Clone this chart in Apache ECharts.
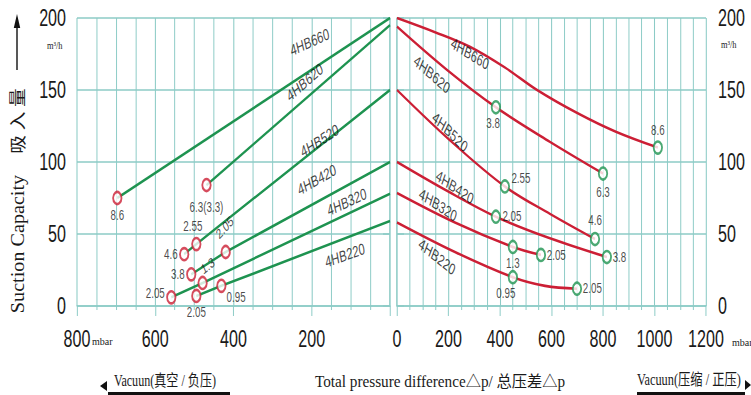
<!DOCTYPE html>
<html><head><meta charset="utf-8">
<script src="https://cdn.jsdelivr.net/npm/echarts@6/dist/echarts.min.js"></script>
<style>
html,body{margin:0;padding:0;background:#fff;overflow:hidden;width:751px;height:395px}
#c{width:1073px;height:395px;transform:scaleX(0.7);transform-origin:0 0}
</style></head><body><div id="c"></div>
<script>
// ---------------- data ----------------
const models = ['4HB660','4HB620','4HB520','4HB420','4HB320','4HB220'];
const vacTicks = [0,200,400,600,800];
const prsTicks = [0,200,400,600,800,1000,1200];
const capTicks = [0,50,100,150,200];

// vacuum side (left panel): [Δp mbar, suction capacity m³/h]
const vac660 = [[0,200],[697,75]];
const vac620 = [[0,195],[469,84]];
const vac520 = [[0,150],[495,43],[526,36]];
const vac420 = [[0,100],[420,37.5],[508,22]];
const vac320 = [[0,78],[479,16],[559,6]];
const vac220 = [[0,59],[431,14],[495,7]];
// motor power (kW) at the marked points (all points but the first)
const vacKw660 = ['8.6'];
const vacKw620 = ['6.3(3.3)'];
const vacKw520 = ['2.55','4.6'];
const vacKw420 = ['2.05','3.8'];
const vacKw320 = ['1.3','2.05'];
const vacKw220 = ['0.95','2.05'];

// pressure side (right panel)
const prs660 = [[0,200],[150,190],[283,180],[420,165.5],[544,150],[700,134],[850,121],[1013,110]];
const prs620 = [[0,194],[194,164],[384,138],[594,114],[800,92]];
const prs520 = [[0,150],[206,115],[419,83],[594,64],[769,46.5]];
const prs420 = [[0,100],[194,80],[384,62],[594,47],[815,34]];
const prs320 = [[0,78.5],[225,58],[450,41],[559,35.5]];
const prs220 = [[0,58],[225,37.5],[450,20],[575,14],[699,12]];
const prsMark660 = [[1013,110]];
const prsMark620 = [[384,138],[800,92]];
const prsMark520 = [[419,83],[769,46.5]];
const prsMark420 = [[384,62],[815,34]];
const prsMark320 = [[450,41],[559,35.5]];
const prsMark220 = [[450,20],[699,12]];
const prsKw660 = ['8.6'];
const prsKw620 = ['3.8','6.3'];
const prsKw520 = ['2.55','4.6'];
const prsKw420 = ['2.05','3.8'];
const prsKw320 = ['1.3','2.05'];
const prsKw220 = ['0.95','2.05'];

// ---------------- styles / layout ----------------
const S = 0.7;               // page is horizontally compressed like the original scan
const X = v => v / S;
const C_GRID = '#8ccbc6', C_GREEN = '#1e9350', C_RED = '#cc1f35', C_TXT = '#1a1a1a';
const F_NUM = '"Liberation Sans Narrow","Arial Narrow","Liberation Sans",Arial,sans-serif';
const F_LBL = '"Liberation Sans",Arial,sans-serif';
const F_SERIF = '"Liberation Serif","Times New Roman","Noto Sans CJK SC",serif';

const vacLblStyle = [
  [{position:'bottom',distance:3}],
  [{position:'bottom',distance:8}],
  [{position:'top',distance:3,offset:[-5,0]},{position:'left',distance:2}],
  [{position:'inside',offset:[14,-20],rotate:38},{position:'left',distance:2}],
  [{position:'inside',offset:[15,-11],rotate:30},{position:'left',distance:2,offset:[0,-4]}],
  [{position:'inside',offset:[21,12]},{position:'bottom',distance:2}]
];
const prsLblStyle = [
  [{position:'top',distance:3}],
  [{position:'bottom',distance:2,offset:[-4,0]},{position:'bottom',distance:5}],
  [{position:'right',distance:2,offset:[0,-8]},{position:'top',distance:4}],
  [{position:'right',distance:2},{position:'right',distance:1}],
  [{position:'bottom',distance:2},{position:'right',distance:1}],
  [{position:'bottom',distance:2,offset:[-10,0]},{position:'right',distance:1}]
];
const vacNameAt = [[205,183],[218,155.5],[180,115],[187,87.5],[110,72],[115,35]];
const vacNameRot = [18,32,24.5,22,18,14];
const prsNameAt = [[283,175],[136,161],[206,121],[225,82.6],[159,70],[155,34]];
const prsNameRot = [-23.6,-32,-35,-26,-25,-29.5];

const vacSets = [[vac660,vacKw660],[vac620,vacKw620],[vac520,vacKw520],[vac420,vacKw420],[vac320,vacKw320],[vac220,vacKw220]];
const prsSets = [[prs660,prsMark660,prsKw660],[prs620,prsMark620,prsKw620],[prs520,prsMark520,prsKw520],
                 [prs420,prsMark420,prsKw420],[prs320,prsMark320,prsKw320],[prs220,prsMark220,prsKw220]];

const markerLabel = {show:true, formatter:'{b}', fontFamily:F_NUM, fontSize:14, color:C_TXT};
const series = [];
vacSets.forEach(([pts,kw],i)=>{
  series.push({type:'line', name:models[i], xAxisIndex:0, yAxisIndex:0, data:pts, symbol:'none',
    lineStyle:{color:C_GREEN,width:2.6}, silent:true, z:2});
  series.push({type:'scatter', xAxisIndex:0, yAxisIndex:0, symbol:'circle', symbolSize:12,
    itemStyle:{color:'#fff',borderColor:C_RED,borderWidth:2.6}, label:markerLabel, z:4,
    data: pts.slice(1).map((p,j)=>({value:p, name:kw[j], label:vacLblStyle[i][j]}))});
});
prsSets.forEach(([pts,marks,kw],i)=>{
  series.push({type:'line', name:models[i], xAxisIndex:1, yAxisIndex:1, data:pts, symbol:'none', smooth:0.35,
    lineStyle:{color:C_RED,width:2.6}, silent:true, z:2});
  series.push({type:'scatter', xAxisIndex:1, yAxisIndex:1, symbol:'circle', symbolSize:12,
    itemStyle:{color:'#fff',borderColor:C_GREEN,borderWidth:2.6}, label:markerLabel, z:4,
    data: marks.map((p,j)=>({value:p, name:kw[j], label:prsLblStyle[i][j]}))});
});
const nameLabel = {show:true, position:'inside', formatter:'{b}', fontFamily:F_LBL, fontSize:16, color:'#111'};
series.push({type:'scatter', xAxisIndex:0, yAxisIndex:0, symbolSize:1, itemStyle:{color:'transparent'}, silent:true, z:5,
  label:nameLabel, data: models.map((m,i)=>({value:vacNameAt[i], name:m, label:{rotate:vacNameRot[i]}}))});
series.push({type:'scatter', xAxisIndex:1, yAxisIndex:1, symbolSize:1, itemStyle:{color:'transparent'}, silent:true, z:5,
  label:nameLabel, data: models.map((m,i)=>({value:prsNameAt[i], name:m, label:{rotate:prsNameRot[i]}}))});

function xAxisOf(grid, ticks, inverse, hideMin){
  return {type:'value', gridIndex:grid, min:ticks[0], max:ticks[ticks.length-1], interval:ticks[1]-ticks[0], inverse:inverse,
    axisLine:{show:true,lineStyle:{color:C_GRID,width:1.5}},
    axisTick:{show:true,length:10,lineStyle:{color:C_GRID,width:1.4}},
    minorTick:{show:true,splitNumber:4,length:4,lineStyle:{color:C_GRID,width:1.4}},
    splitLine:{show:true,lineStyle:{color:C_GRID,width:1.5}},
    minorSplitLine:{show:true,lineStyle:{color:C_GRID,width:1.4}},
    axisLabel:{margin:21,fontFamily:F_NUM,fontSize:23,color:C_TXT,showMinLabel:!hideMin,formatter:v=>String(v)}};
}
function yAxisOf(grid, pos){
  return {type:'value', gridIndex:grid, position:pos, min:capTicks[0], max:capTicks[capTicks.length-1], interval:capTicks[1]-capTicks[0],
    axisLine:{show:true,lineStyle:{color:C_GRID,width:1.5}},
    axisTick:{show:true,length:X(7),lineStyle:{color:C_GRID,width:1.5}},
    splitLine:{show:true,lineStyle:{color:C_GRID,width:1.6}},
    axisLabel:{margin:X(pos==='left'?11:12),fontFamily:F_NUM,fontSize:23,color:C_TXT,formatter:v=>String(v)}};
}

const txt = (text,x,y,font,opt={}) => Object.assign({type:'text', x:X(x), y:y, silent:true,
  style:Object.assign({text:text, font:font, fill:C_TXT, align:'left', verticalAlign:'middle', textAlign:'left', textVerticalAlign:'middle'}, opt.style||{})},
  opt.el||{});

const graphic = [
  txt('Suction Capacity',18,244,'18px '+F_SERIF,{el:{rotation:Math.PI/2,scaleY:1/S,scaleX:1.12},style:{align:'center',textAlign:'center'}}),
  txt('吸 入 量',18,121,'17px '+F_SERIF,{el:{rotation:Math.PI/2,scaleY:1/S,scaleX:1.1},style:{align:'center',textAlign:'center'}}),
  {type:'line', silent:true, shape:{x1:X(17),y1:70,x2:X(17),y2:24}, style:{stroke:'#111',lineWidth:2}},
  {type:'polygon', silent:true, shape:{points:[[X(17),14],[X(13.8),28],[X(20.2),28]]}, style:{fill:'#111'}},
  txt('m³/h',47,46,'10px '+F_SERIF,{el:{scaleX:1.2}}),
  txt('m³/h',721,45,'10px '+F_SERIF,{el:{scaleX:1.2}}),
  txt('mbar',92,341,'11px '+F_SERIF,{el:{scaleX:1.3}}),
  txt('mbar',732,342,'11px '+F_SERIF,{el:{scaleX:1.3}}),
  txt('Vacuun(真空 / 负压)',114,380,'16px '+F_SERIF,{el:{scaleX:1.08}}),
  {type:'polygon', silent:true, shape:{points:[[X(100),386],[X(107),381],[X(107),391]]}, style:{fill:'#111'}},
  {type:'rect', silent:true, shape:{x:X(108),y:392,width:X(122),height:3}, style:{fill:'#111'}},
  txt('Total pressure difference△p/ 总压差△p',440,381,'16px '+F_SERIF,{el:{scaleX:1.36},style:{align:'center',textAlign:'center'}}),
  txt('Vacuun(压缩 / 正压)',637,379,'16px '+F_SERIF,{el:{scaleX:1.1}}),
  {type:'rect', silent:true, shape:{x:X(637),y:392,width:X(108),height:3}, style:{fill:'#111'}},
  {type:'polygon', silent:true, shape:{points:[[X(751),385],[X(745),380],[X(745),390]]}, style:{fill:'#111'}}
];

const chart = echarts.init(document.getElementById('c'), null, {renderer:'svg', width:1073, height:395});
chart.setOption({
  animation:false,
  backgroundColor:'#fff',
  grid:[{left:X(77),top:18,width:X(313),height:288},{left:X(397),top:18,width:X(309),height:288}],
  xAxis:[xAxisOf(0,vacTicks,true,true), xAxisOf(1,prsTicks,false,false)],
  yAxis:[yAxisOf(0,'left'), yAxisOf(1,'right')],
  series:series,
  graphic:graphic
});
</script></body></html>
